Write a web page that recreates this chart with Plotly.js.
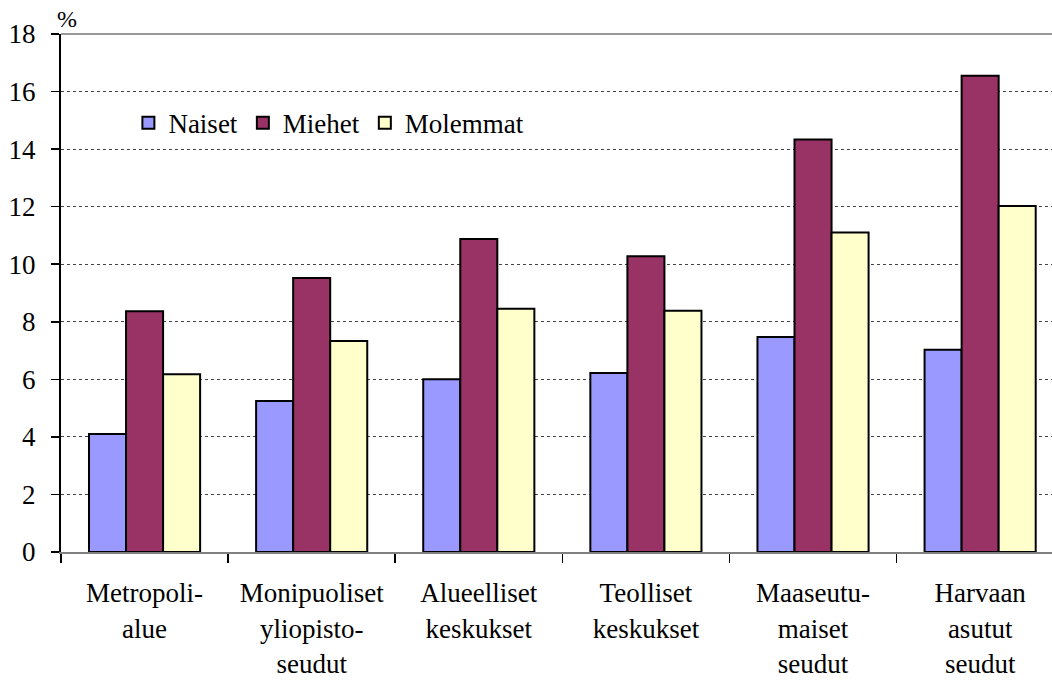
<!DOCTYPE html>
<html>
<head>
<meta charset="utf-8">
<script src="https://cdn.plot.ly/plotly-3.0.1.min.js"></script>
<style>html,body{margin:0;padding:0;background:#fff;}#chart{width:1052px;height:680px;}</style>
</head>
<body>
<div id="chart"></div>
<script>
var categories = ["Metropoli-<br>alue", "Monipuoliset<br>yliopisto-<br>seudut", "Alueelliset<br>keskukset", "Teolliset<br>keskukset", "Maaseutu-<br>maiset<br>seudut", "Harvaan<br>asutut<br>seudut"];
var naiset = [4.1, 5.25, 6.0, 6.22, 7.47, 7.03];
var miehet = [8.37, 9.52, 10.88, 10.28, 14.33, 16.55];
var molemmat = [6.18, 7.33, 8.45, 8.38, 11.1, 12.02];
var seriesNames = ["Naiset", "Miehet", "Molemmat"];
var yTicks = [0, 2, 4, 6, 8, 10, 12, 14, 16, 18];

var font = "Liberation Serif";
var colors = ["#9999FF", "#993366", "#FFFFCC"];
var vals = [naiset, miehet, molemmat];
var traces = vals.map(function(v, i) {
  return {
    type: "bar", name: seriesNames[i], x: categories, y: v,
    marker: {color: colors[i], line: {color: "#000", width: 2}}
  };
});

var layout = {
  width: 1052, height: 680,
  margin: {l: 61, r: 0, t: 34, b: 128},
  paper_bgcolor: "#fff", plot_bgcolor: "#fff",
  barmode: "group", bargap: 0.335, bargroupgap: 0,
  font: {family: font, color: "#000", size: 27},
  showlegend: true,
  legend: {orientation: "h", x: 0.068, y: 0.828, xanchor: "left", yanchor: "middle",
           font: {family: font, size: 27, color: "#000"}, bgcolor: "rgba(0,0,0,0)",
           itemwidth: 30, tracegroupgap: 0},
  xaxis: {
    type: "category", range: [-0.5, 5.43], fixedrange: true,
    showline: true, linecolor: "#808080", linewidth: 2,
    ticks: "outside", tickson: "boundaries", ticklen: 9, tickcolor: "#000", tickwidth: 1.5,
    showgrid: false, tickangle: 0, ticklabelstandoff: 16,
    tickfont: {family: font, size: 27, color: "#000"}
  },
  yaxis: {
    range: [0, 18], tickvals: yTicks, ticktext: yTicks.map(String),
    showline: true, linecolor: "#000", linewidth: 2,
    ticks: "outside", ticklen: 8, tickcolor: "#000", tickwidth: 1.5,
    showgrid: true, gridcolor: "#444", griddash: "dot", gridwidth: 1,
    zeroline: false, ticklabelstandoff: 10,
    tickfont: {family: font, size: 27, color: "#000"}
  },
  shapes: [{type: "line", xref: "paper", yref: "paper", x0: 0, x1: 1, y0: 1, y1: 1,
            line: {color: "#999", width: 2}}],
  annotations: [{text: "%", xref: "paper", yref: "paper", x: -0.006, y: 1, xanchor: "left", yanchor: "bottom",
                 showarrow: false, font: {family: font, size: 24, color: "#000"}, yshift: 0}]
};

Plotly.newPlot("chart", traces, layout, {displayModeBar: false, staticPlot: true});
</script>
</body>
</html>
